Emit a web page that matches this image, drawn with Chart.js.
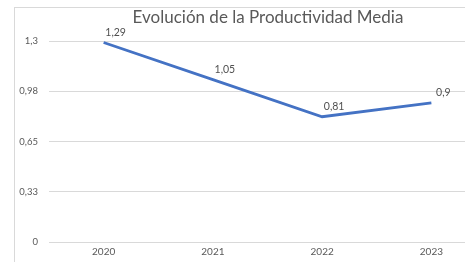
<!DOCTYPE html>
<html>
<head>
<meta charset="utf-8">
<script src="https://cdn.jsdelivr.net/npm/chart.js@4/dist/chart.umd.min.js"></script>
<style>
    html, body { margin: 0; padding: 0; background: #fff; overflow: hidden; }
    #frame {
        position: absolute; left: 14px; top: 7px; width: 560px; height: 300px;
        border-left: 1px solid #d9d9d9; border-top: 1px solid #d9d9d9;
    }
    #wrap { position: absolute; left: 0; top: 0; width: 536px; height: 262px; }
</style>
</head>
<body>
<div id="frame"></div>
<div id="wrap"><canvas id="chartCanvas"></canvas></div>
<script>
// Chart data
const years = ['2020', '2021', '2022', '2023'];
const productividad = [1.29, 1.05, 0.81, 0.9];
const pointLabels = ['1,29', '1,05', '0,81', '0,9'];
const yTickValues = [0, 0.325, 0.65, 0.975, 1.3];
const yTickLabels = ['0', '0,33', '0,65', '0,98', '1,3'];

const textColor = '#595959';
const fontFamily = 'Lato, "Open Sans", sans-serif';

// Draws value labels next to each point (Excel style)
const valueLabels = {
    id: 'valueLabels',
    afterDatasetsDraw(chart) {
        const ctx = chart.ctx;
        const meta = chart.getDatasetMeta(0);
        ctx.save();
        ctx.font = '10.5px ' + fontFamily;
        ctx.fillStyle = '#505050';
        ctx.textAlign = 'center';
        ctx.textBaseline = 'middle';
        meta.data.forEach(function(pt, i) {
            ctx.fillText(pointLabels[i], pt.x + 12, pt.y - 10);
        });
        ctx.restore();
    }
};

var ctx = document.getElementById('chartCanvas').getContext('2d');
var chart = new Chart(ctx, {
    type: 'line',
    data: {
        labels: years,
        datasets: [{
            data: productividad,
            borderColor: '#4472C4',
            borderWidth: 2.8,
            pointRadius: 0,
            tension: 0,
            fill: false
        }]
    },
    options: {
        responsive: true,
        maintainAspectRatio: false,
        animation: false,
        layout: { padding: 0 },
        plugins: {
            legend: { display: false },
            tooltip: { enabled: false },
            title: {
                display: true,
                text: 'Evolución de la Productividad Media',
                color: textColor,
                font: { family: fontFamily, size: 17, weight: 'normal', lineHeight: 1.2 },
                padding: { top: 7, bottom: 13.6 }
            }
        },
        scales: {
            x: {
                offset: true,
                grid: { display: false, drawTicks: false },
                border: { display: false },
                ticks: { color: textColor, font: { family: fontFamily, size: 10 }, padding: 4, maxRotation: 0 }
            },
            y: {
                min: 0,
                max: 1.3,
                afterBuildTicks: function(scale) {
                    scale.ticks = yTickValues.map(function(v) { return { value: v }; });
                },
                afterFit: function(scale) { scale.width = 49; },
                grid: { color: '#d9d9d9', lineWidth: 1, drawTicks: false },
                border: { display: false },
                ticks: {
                    color: textColor,
                    font: { family: fontFamily, size: 9.5 },
                    padding: 11,
                    callback: function(value, index) { return yTickLabels[index]; }
                }
            },
            // empty right-hand axis, only reserves space so the plot runs past the window edge
            yRight: {
                position: 'right',
                min: 0,
                max: 1.3,
                afterFit: function(scale) { scale.width = 50; },
                grid: { display: false, drawTicks: false },
                border: { display: false },
                ticks: { display: false }
            }
        }
    },
    plugins: [valueLabels]
});
</script>
</body>
</html>
